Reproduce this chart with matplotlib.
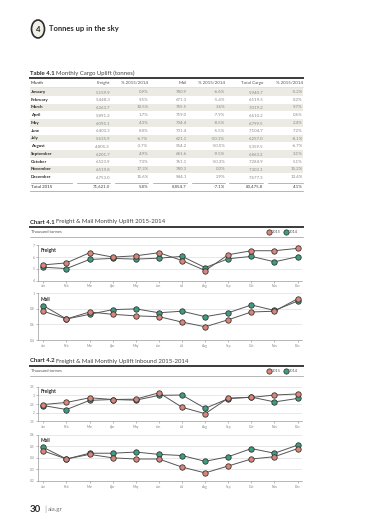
import matplotlib
matplotlib.use("Agg")
import matplotlib.pyplot as plt
from matplotlib.patches import Rectangle, Circle
from matplotlib.lines import Line2D

plt.rcParams['font.family'] = ['Lato', 'DejaVu Sans']

W, H = 380, 525

# ---- table data ----
months = ["January", "February", "March", "April", "May", "June", "July",
          "August", "September", "October", "November", "December"]
freight = ["5,159.9", "5,448.3", "6,263.7", "5,891.2", "6,095.1", "6,403.3",
           "5,635.9", "4,805.3", "6,201.7", "6,523.9", "6,519.8", "6,753.0"]
freight_pct = ["0.9%", "9.5%", "10.5%", "1.7%", "4.3%", "8.8%",
               "-6.7%", "-3.7%", "4.9%", "7.3%", "17.3%", "15.6%"]
mail = ["780.9", "671.3", "755.5", "719.0", "704.4", "701.4",
        "621.1", "554.2", "661.6", "761.1", "780.3", "944.1"]
mail_pct = ["-6.6%", "-1.4%", "3.6%", "-7.9%", "-8.5%", "-5.5%",
            "-10.1%", "-10.5%", "-9.5%", "-10.3%", "0.3%", "2.9%"]
total = ["5,940.7", "6,119.5", "7,019.2", "6,610.2", "6,799.5", "7,104.7",
         "6,257.0", "5,359.5", "6,863.2", "7,284.9", "7,300.1", "7,677.3"]
total_pct = ["-0.2%", "8.2%", "9.7%", "0.6%", "2.4%", "7.2%",
             "-8.1%", "-6.7%", "3.1%", "5.1%", "15.2%", "13.4%"]
totals_row = ["Total 2015", "71,621.0", "5.8%", "8,854.7", "-7.1%", "80,475.8", "4.1%"]
headers = ["Month", "Freight", "% 2015/2014", "Mail", "% 2015/2014", "Total Cargo", "% 2015/2014"]

# ---- chart data (thousand tonnes) ----
mlab = ["Jan", "Feb", "Mar", "Apr", "May", "Jun", "Jul", "Aug", "Sep", "Oct", "Nov", "Dec"]
up_freight_15 = [5.34, 5.51, 6.37, 6.00, 6.11, 6.37, 5.71, 4.86, 6.20, 6.54, 6.54, 6.74]
up_freight_14 = [5.14, 5.03, 5.80, 5.89, 5.83, 5.91, 6.06, 5.11, 5.86, 6.06, 5.60, 6.03]
up_mail_15 = [0.77, 0.67, 0.76, 0.73, 0.71, 0.70, 0.63, 0.57, 0.66, 0.76, 0.77, 0.93]
up_mail_14 = [0.84, 0.67, 0.73, 0.79, 0.80, 0.75, 0.77, 0.70, 0.75, 0.85, 0.78, 0.90]
in_freight_15 = [2.47, 2.59, 2.86, 2.76, 2.78, 3.15, 2.31, 1.94, 2.84, 2.88, 3.02, 3.08]
in_freight_14 = [2.41, 2.18, 2.71, 2.76, 2.72, 3.00, 3.02, 2.25, 2.81, 2.90, 2.62, 2.82]
in_mail_15 = [0.46, 0.39, 0.43, 0.40, 0.39, 0.39, 0.32, 0.27, 0.33, 0.39, 0.41, 0.48]
in_mail_14 = [0.49, 0.39, 0.44, 0.44, 0.45, 0.43, 0.42, 0.37, 0.41, 0.48, 0.44, 0.51]

RED = "#d98579"
GREEN = "#3f9c80"
DARK = "#2b2b2b"
GREY = "#8a8a8a"
SHADE = "#ebebe4"


def fx(x):
    return x / W


def fy(y):
    return 1 - y / H


fig = plt.figure(figsize=(3.8, 5.25), dpi=100)
fig.patch.set_facecolor("white")
renderer = fig.canvas.get_renderer()


def hline(x0, x1, y, lw=0.5, color="#bbbbbb"):
    fig.add_artist(Line2D([fx(x0), fx(x1)], [fy(y), fy(y)], lw=lw, color=color))


def title_pair(x, y, bold, rest, size):
    # bold lead-in followed by the regular part, placed right after it
    t = fig.text(fx(x), fy(y), bold, fontsize=size, fontweight="bold", va="center", color=DARK)
    w = t.get_window_extent(renderer).width
    fig.text(fx(x + w + 1.5), fy(y), rest, fontsize=size, va="center", color="#444444")


# header
fig.add_artist(Circle((fx(38), fy(29)), 6.5 / W, transform=fig.transFigure,
                      facecolor="#f0efe8", edgecolor=DARK, lw=1.2))
fig.text(fx(38), fy(29.3), "4", fontsize=5.5, fontweight="bold", ha="center", va="center", color=DARK)
fig.text(fx(49), fy(29), "Tonnes up in the sky", fontsize=5.5, fontweight="bold", va="center", color=DARK)

# table
title_pair(30, 73.3, "Table 4.1", "Monthly Cargo Uplift (tonnes)", 4.3)
hline(30, 303, 78, lw=1.4, color="#3a3a3a")

col_right = [None, 110, 148.3, 186.7, 225, 263.3, 302.7]
seg = [(30.7, 71.7), (76.7, 110), (115, 148.3), (153.3, 186.7), (191.7, 225), (229.3, 263.3), (268.3, 302.7)]


def row(y, cells, bold_first=True, color=GREY):
    for i, c in enumerate(cells):
        if i == 0:
            fig.text(fx(30.7), fy(y), c, fontsize=3.2, fontweight="bold" if bold_first else "normal",
                     va="center", ha="left", color=DARK)
        else:
            fig.text(fx(col_right[i]), fy(y), c, fontsize=3.2, va="center", ha="right", color=color)


row(82.7, headers, bold_first=False, color="#555555")
hline(30, 303, 87.0, lw=0.4, color="#cccccc")
y0, dy = 92.0, 7.75
for k in range(12):
    y = y0 + k * dy
    if k % 2 == 0:
        fig.add_artist(Rectangle((fx(30), fy(y + dy / 2)), fx(303) - fx(30), dy / H,
                                 transform=fig.transFigure, facecolor=SHADE, edgecolor="none", zorder=0))
    row(y, [months[k], freight[k], freight_pct[k], mail[k], mail_pct[k], total[k], total_pct[k]])
for a, b in seg:
    hline(a, b, 182.6, lw=0.5, color="#999999")
row(186.8, totals_row, bold_first=False, color="#444444")
hline(30, 303, 191.2, lw=0.5, color="#999999")


def chart_header(y_title, num, title):
    title_pair(30, y_title, "Chart " + num, title, 4.3)
    hline(30, 303, y_title + 5, lw=1.4, color="#3a3a3a")
    fig.text(fx(30.7), fy(y_title + 9.8), "Thousand tonnes", fontsize=3.0, va="center", color="#555555")
    for xc, col, lab in [(268.5, RED, "2015"), (285.5, GREEN, "2014")]:
        fig.add_artist(Line2D([fx(xc)], [fy(y_title + 9.8)], marker="o", markersize=3.8,
                              markerfacecolor=col, markeredgecolor=DARK, markeredgewidth=0.5))
        fig.text(fx(xc + 3), fy(y_title + 9.8), lab, fontsize=2.8, va="center", color="#555555")
    hline(30, 303, y_title + 14.5, lw=0.5, color="#999999")


def panel(top, bottom, ylim, yticks, ylabels, s15, s14, name):
    ax = fig.add_axes([fx(38.3), fy(bottom), fx(302) - fx(38.3), (bottom - top) / H])
    x = list(range(12))
    for v in yticks[1:]:
        ax.axhline(v, color="#e4e4e4", lw=0.6, zorder=0)
    for s, col in [(s14, GREEN), (s15, RED)]:
        ax.plot(x, s, color="#555555", lw=0.7, zorder=2)
        ax.plot(x, s, ls="none", marker="o", markersize=3.9, markerfacecolor=col,
                markeredgecolor=DARK, markeredgewidth=0.55, zorder=3)
    ax.set_xlim(-0.22, 11.19)
    ax.set_ylim(*ylim)
    ax.set_yticks(yticks)
    ax.set_yticklabels(ylabels)
    ax.set_xticks(x)
    ax.set_xticklabels(mlab)
    ax.tick_params(labelsize=2.4, colors="#888888", length=1.5, width=0.4, pad=1.2)
    for sp in ["top", "right"]:
        ax.spines[sp].set_visible(False)
    for sp in ["left", "bottom"]:
        ax.spines[sp].set_color("#999999")
        ax.spines[sp].set_linewidth(0.5)
    ax.text(0.01, 0.93, name, transform=ax.transAxes, fontsize=3.6, fontweight="bold",
            va="top", ha="left", color=DARK)
    return ax


chart_header(222, "4.1", "Freight & Mail Monthly Uplift 2015-2014")
panel(245.3, 280.7, (4, 7), [4, 5, 6, 7], ["4", "5", "6", "7"], up_freight_15, up_freight_14, "Freight")
panel(293.3, 340, (0.4, 1.0), [0.4, 0.6, 0.8, 1.0], ["0.4", "0.6", "0.8", "1"], up_mail_15, up_mail_14, "Mail")

chart_header(361, "4.2", "Freight & Mail Monthly Uplift Inbound 2015-2014")
panel(386.7, 421.3, (1.5, 3.5), [1.5, 2, 2.5, 3, 3.5], ["1.5", "2", "2.5", "3", "3.5"],
      in_freight_15, in_freight_14, "Freight")
panel(434.7, 481, (0.2, 0.6), [0.2, 0.3, 0.4, 0.5, 0.6], ["0.2", "0.3", "0.4", "0.5", "0.6"],
      in_mail_15, in_mail_14, "Mail")

# footer
fig.text(fx(30), fy(509), "30", fontsize=7, fontweight="bold", va="center", color=DARK)
fig.text(fx(44), fy(509), "|", fontsize=6, va="center", color="#aaaaaa")
fig.text(fx(48), fy(509.5), "aia.gr", fontsize=4.5, va="center", color="#777777")

fig.savefig("out.png", dpi=100)
